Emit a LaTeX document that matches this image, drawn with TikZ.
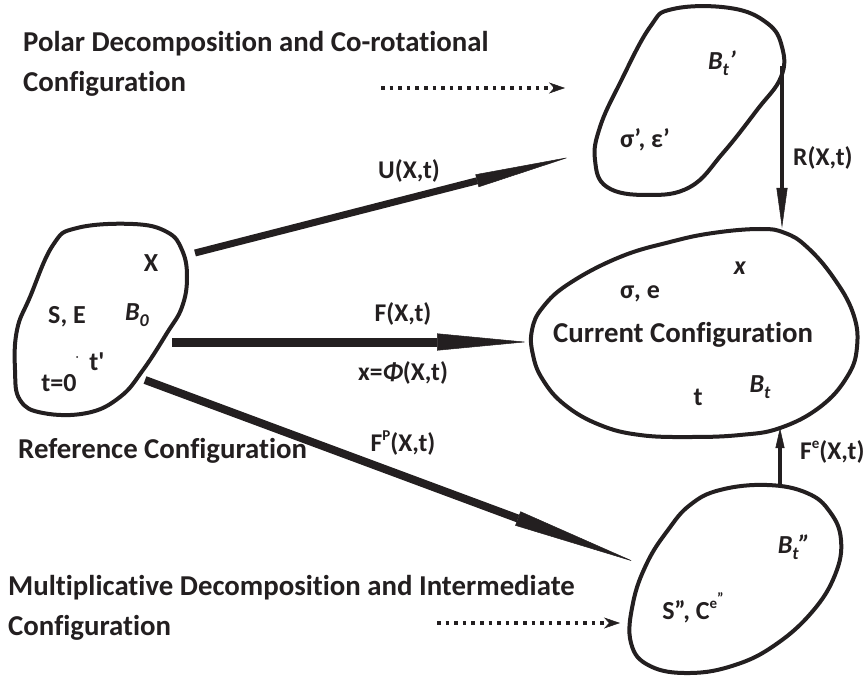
\documentclass[tikz,border=0pt]{standalone}
\usepackage{fontspec}
\setmainfont{Carlito}[Ligatures={TeX,NoCommon}]
\usetikzlibrary{arrows.meta}
\definecolor{ink}{HTML}{231F20}
\newcommand\hsz{\fontsize{28.8}{30}\selectfont\bfseries}
\newcommand\isz{\fontsize{26}{28}\selectfont\bfseries}
\newcommand\lsz{\fontsize{25.5}{27}\selectfont\bfseries}
\newcommand\supx[1]{\raisebox{0.45em}{\fontsize{15}{15}\selectfont #1}}
\newcommand\subx[1]{\raisebox{-0.22em}{\fontsize{18}{18}\selectfont #1}}
\begin{document}
\begin{tikzpicture}[x=1pt,y=-1pt,
  txt/.style={inner sep=0pt, text=ink},
  head/.style={txt, font=\hsz},
  inner/.style={txt, font=\isz},
  lbl/.style={txt, font=\lsz},
  blob/.style={draw=ink, line width=4pt, line join=round},
  bigarrow/.style={draw=ink, line width=#1},
  dotarrow/.style={draw=ink, line width=3.6pt, dash pattern=on 3.6pt off 5pt,
     -{Stealth[length=16pt,width=11pt,inset=5pt,line width=0.5pt]}}
]
\useasboundingbox (0,0) rectangle (867,676);

% blobs
\draw[blob] plot[smooth cycle, tension=0.7] coordinates {
 (53,245) (77,228) (133,224) (167,232) (182,250) (187,277) (182,307)
 (167,333) (143,370) (120,397) (87,413) (43,413) (20,400) (15,370)
 (17,330) (30,297)};
\draw[blob] plot[smooth cycle, tension=0.7] coordinates {
 (650,27) (673,9) (730,8) (767,23) (782,47) (781,77) (757,110)
 (723,153) (690,187) (647,195) (607,187) (595,160) (600,127) (620,83)};
\draw[blob] plot[smooth cycle, tension=0.7] coordinates {
 (532,330) (543,307) (570,283) (620,257) (670,242) (713,233) (760,229)
 (785,233) (807,247) (833,277) (853,313) (857,347) (847,377) (820,407)
 (780,428) (740,435) (690,437) (640,435) (600,425) (565,405) (543,380) (533,355)};
\draw[blob] plot[smooth cycle, tension=0.7] coordinates {
 (720,490) (767,485) (807,493) (830,512) (841,540) (835,575) (812,612)
 (775,645) (735,665) (690,673) (650,666) (631,643) (633,603) (647,563)
 (668,530) (690,505)};

% arrow end points
\coordinate (Us) at (195,253); \coordinate (Ue) at (570,157);
\coordinate (Fs) at (172,342); \coordinate (Fe) at (527,342);
\coordinate (Ps) at (145,380); \coordinate (Pe) at (635,562);
\coordinate (Rs) at (782,66);  \coordinate (Re) at (782,228);
\coordinate (Es) at (780,487); \coordinate (Ee) at (780,428);
\coordinate (D1s) at (381,88); \coordinate (D1e) at (565,88);
\coordinate (D2s) at (437,623); \coordinate (D2e) at (620,623);

\draw[bigarrow=7pt, -{Triangle[length=96pt,width=13pt,line width=0.5pt]}] (Us) -- (Ue);
\draw[bigarrow=9pt, -{Triangle[length=90pt,width=17pt,line width=0.5pt]}] (Fs) -- (Fe);
\draw[bigarrow=8pt, -{Triangle[length=125pt,width=15pt,line width=0.5pt]}] (Ps) -- (Pe);
\draw[bigarrow=4pt, -{Triangle[length=40pt,width=11pt,line width=0.5pt]}] (Rs) -- (Re);
\draw[bigarrow=4pt, -{Triangle[length=20pt,width=9pt,line width=0.5pt]}] (Es) -- (Ee);
\draw[dotarrow] (D1s) -- (D1e);
\draw[dotarrow] (D2s) -- (D2e);

% headings
\node[head, anchor=base west] (h1) at (23,52) {Polar Decomposition and Co-rotational};
\node[head, anchor=base west] (h2) at (23,92) {Configuration};
\node[head, anchor=base west] (h3) at (8,595) {Multiplicative Decomposition and Intermediate};
\node[head, anchor=base west] (h4) at (8,635) {Configuration};
\node[head, anchor=base west] (refc) at (18,458) {Reference Configuration};
\node[head, anchor=base west] (curc) at (553,342) {Current Configuration};

% inner texts
\node[inner] (X) at (151,263) {X};
\node[inner] (SE) at (67,317) {S, E};
\node[inner] (B0) at (137,315) {\textit{B}\subx{\textit{0}}};
\node[inner] (t0) at (59,383) {t=0};
\node[inner] (tp) at (97,362) {t\textquotesingle};
\fill[ink] (77,357) circle (1pt) coordinate (dot);
\node[inner] (Btp) at (722,63) {\textit{B}\subx{\textit{t}}\textit{’}};
\node[inner] (sgp) at (645,140) {σ’, ε’};
\node[inner] (xs) at (740,268) {\textit{x}};
\node[inner] (sge) at (640,294) {σ, e};
\node[inner] (tt) at (698,397) {t};
\node[inner] (Bt) at (760,387) {\textit{B}\subx{\textit{t}}};
\node[inner] (Btpp) at (794,547) {\textit{B}\subx{\textit{t}}\textit{”}};
\node[inner] (Spp) at (693,608) {S”, C\supx{e\raisebox{0.3em}{"}}};

% labels
\node[lbl] (lU) at (409,171) {U(X,t)};
\node[lbl] (lF) at (403,314) {F(X,t)};
\node[lbl] (lphi) at (403,373) {x=\textit{Φ}(X,t)};
\node[lbl] (lP) at (403,443) {F\supx{P}(X,t)};
\node[lbl, anchor=west] (lR) at (793,158) {R(X,t)};
\node[lbl, anchor=west] (lE) at (800,452) {F\supx{e}(X,t)};
\end{tikzpicture}
\end{document}
